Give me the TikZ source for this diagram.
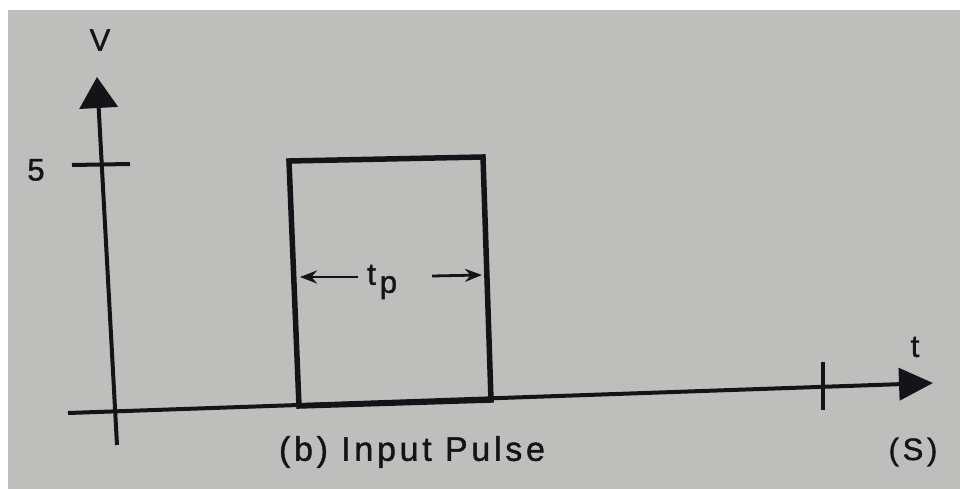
\documentclass[tikz,border=0pt]{standalone}
\usepackage{fontspec}
\setmainfont{Liberation Sans}[FakeBold=1.2]
\usetikzlibrary{arrows.meta}
\definecolor{bg}{RGB}{190,190,188}
\definecolor{ink}{RGB}{20,20,24}
\begin{document}
\begin{tikzpicture}[x=1pt,y=-1pt,
  axis/.style={draw=ink,line width=4pt},
  pulse/.style={draw=ink,line width=5.5pt,line join=miter},
  dimline/.style={draw=ink,line width=2.8pt,-{Stealth[length=17pt,width=13pt]}},
  lbl/.style={text=ink,inner sep=0pt,font=\fontsize{31}{33}\selectfont}]
\useasboundingbox (0,0) rectangle (960,489);
\fill[white] (0,0) rectangle (960,489);
\fill[bg] (8,10) rectangle (960,489);
% axes
\coordinate (yb) at (117,445);
\coordinate (yt) at (97,77);
\coordinate (xl) at (68,413);
\coordinate (xr) at (933,383);
\draw[axis,-{Triangle[length=31pt,width=38pt]}] (yb) -- (yt);
\draw[axis,-{Triangle[length=34pt,width=32pt]}] (xl) -- (xr);
% ticks
\coordinate (t5a) at (72,165);
\coordinate (t5b) at (130,164);
\draw[axis] (t5a) -- (t5b);
\coordinate (txa) at (823,362);
\coordinate (txb) at (823,410);
\draw[axis] (txa) -- (txb);
% pulse
\coordinate (bl) at (299,406);
\coordinate (tl) at (289,161);
\coordinate (tr) at (483,157);
\coordinate (br) at (491,400);
\draw[pulse] (bl) -- (tl) -- (tr) -- (br) -- cycle;
% tp dimension
\coordinate (la) at (358,277);
\coordinate (lb) at (300,277);
\coordinate (ra) at (432,276);
\coordinate (rb) at (482,275);
\draw[dimline] (la) -- (lb);
\draw[dimline] (ra) -- (rb);
% labels
\node[lbl] (V) at (100,40) {V};
\node[lbl] (five) at (36,170) {5};
\node[lbl,anchor=west] (tp) at (367,282) {t\hspace{4pt}\raisebox{-8pt}{p}};
\node[lbl] (tlabel) at (915,347) {t};
\node[lbl,font=\fontsize{31}{33}\selectfont\addfontfeatures{LetterSpace=12}] (unit) at (913,452) {(S)};
\node[lbl,font=\fontsize{34}{36}\selectfont\addfontfeatures{LetterSpace=11}] (cap) at (412,452) {(b) Input Pulse};
\end{tikzpicture}
\end{document}
